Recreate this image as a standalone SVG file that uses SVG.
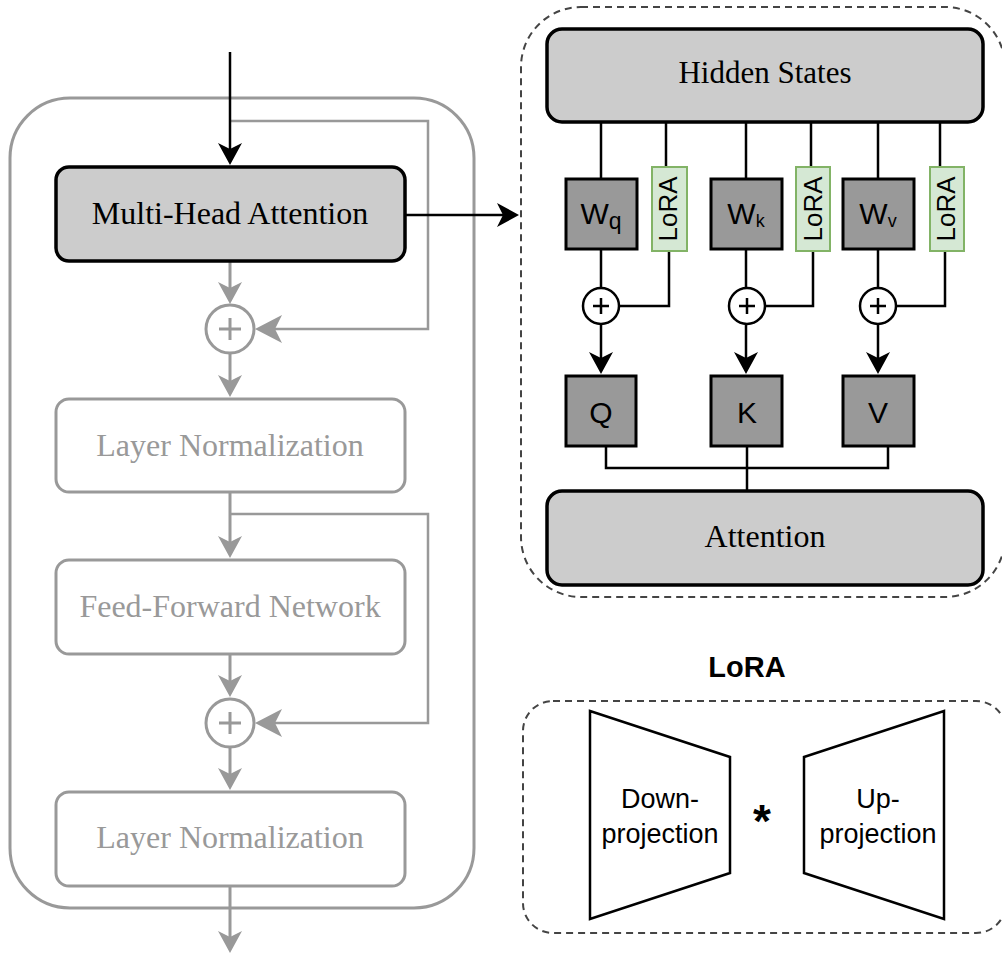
<svg xmlns="http://www.w3.org/2000/svg" width="1002" height="958" viewBox="0 0 1002 958">
  <style>
    .serif { font-family: "Liberation Serif", "Times New Roman", serif; }
    .sans { font-family: "Liberation Sans", Arial, sans-serif; }
    .blk { fill: none; stroke: #000; stroke-width: 2.5; }
    .gry { fill: none; stroke: #999; stroke-width: 3; }
    .gry-thin { fill: none; stroke: #999; stroke-width: 2.5; }
    .box-main { fill: #cccccc; stroke: #000; stroke-width: 3.5; }
    .box-faded { fill: #fff; stroke: #999; stroke-width: 3; }
    .w { fill: #999999; stroke: #000; stroke-width: 3; }
    .lora { fill: #d5e8d4; stroke: #82b366; stroke-width: 2; }
    .sum-b { fill: #fff; stroke: #000; stroke-width: 2.5; }
    .sum-g { fill: #fff; stroke: #999; stroke-width: 3; }
    .dash { fill: none; stroke: #444; stroke-width: 2; stroke-dasharray: 7 5; }
    .trap { fill: #fff; stroke: #000; stroke-width: 2.5; stroke-linejoin: miter; }
  </style>
  <defs>
    <!-- notched arrowheads; tip sits 10 (or 12) units past the line end -->
    <marker id="arrB" viewBox="-14 -13 26 26" refX="0" refY="0" markerWidth="26" markerHeight="26" markerUnits="userSpaceOnUse" orient="auto">
      <path d="M10,0 L-12,-12 L-6,0 L-12,12 Z" fill="#000"/>
    </marker>
    <marker id="arrG" viewBox="-14 -13 26 26" refX="0" refY="0" markerWidth="26" markerHeight="26" markerUnits="userSpaceOnUse" orient="auto">
      <path d="M10,0 L-12,-12 L-6,0 L-12,12 Z" fill="#999"/>
    </marker>
    <marker id="arrGL" viewBox="-17 -16 31 32" refX="0" refY="0" markerWidth="31" markerHeight="32" markerUnits="userSpaceOnUse" orient="auto">
      <path d="M12,0 L-15,-14 L-8,0 L-15,14 Z" fill="#999"/>
    </marker>
  </defs>

  <!-- transformer block frame -->
  <rect x="10" y="98" width="464" height="810" rx="60" ry="60" fill="none" stroke="#999" stroke-width="3"/>

  <!-- attention detail frame -->
  <rect x="521" y="7" width="484" height="590" rx="60" ry="60" class="dash"/>

  <!-- LoRA detail frame -->
  <rect x="523" y="701" width="483" height="232" rx="30" ry="30" class="dash"/>

  <g id="connectors">
    <!-- residual branches (grey) -->
    <path d="M230,121 H428 V329 H267" class="gry-thin" marker-end="url(#arrGL)"/>
    <path d="M230,514 H428 V723 H267" class="gry-thin" marker-end="url(#arrGL)"/>
    <!-- main grey flow -->
    <path d="M230,261 V294" class="gry" marker-end="url(#arrG)"/>
    <path d="M230,353 V387" class="gry" marker-end="url(#arrG)"/>
    <path d="M230,492 V548" class="gry" marker-end="url(#arrG)"/>
    <path d="M230,654 V687" class="gry" marker-end="url(#arrG)"/>
    <path d="M230,747 V780" class="gry" marker-end="url(#arrG)"/>
    <path d="M230,886 V943" class="gry" marker-end="url(#arrG)"/>
    <!-- input and detail link (black) -->
    <path d="M230,52 V155" class="blk" marker-end="url(#arrB)"/>
    <path d="M405,215 H509" class="blk" marker-end="url(#arrB)"/>

    <!-- hidden states fan-out -->
    <path d="M601,122 V179" class="blk"/>
    <path d="M666,122 V167" class="blk"/>
    <path d="M746,122 V179" class="blk"/>
    <path d="M811,122 V167" class="blk"/>
    <path d="M878,122 V179" class="blk"/>
    <path d="M940,122 V167" class="blk"/>
    <!-- weights into adders -->
    <path d="M601,249 V288" class="blk"/>
    <path d="M746,249 V288" class="blk"/>
    <path d="M878,249 V288" class="blk"/>
    <!-- LoRA branches into adders -->
    <path d="M669,251 V306 H619" class="blk"/>
    <path d="M813,251 V306 H765" class="blk"/>
    <path d="M945,251 V306 H896" class="blk"/>
    <!-- adders into Q, K, V -->
    <path d="M601,324 V364" class="blk" marker-end="url(#arrB)"/>
    <path d="M746,324 V364" class="blk" marker-end="url(#arrB)"/>
    <path d="M878,324 V364" class="blk" marker-end="url(#arrB)"/>
    <!-- Q, K, V merge into attention -->
    <path d="M606,446 V468 H888 V446" class="blk"/>
    <path d="M747,446 V491" class="blk"/>
  </g>

  <g id="mha">
    <rect x="56" y="167" width="349" height="94" rx="13" class="box-main"/>
    <text x="230" y="224" class="serif" font-size="32" text-anchor="middle" fill="#000">Multi-Head Attention</text>
  </g>

  <g id="add1">
    <circle cx="230" cy="329" r="24" class="sum-g"/>
    <path d="M219,329 H241 M230,318 V340" stroke="#999" stroke-width="3"/>
  </g>

  <g id="layernorm1">
    <rect x="56" y="399" width="349" height="93" rx="13" class="box-faded"/>
    <text x="230" y="456" class="serif" font-size="32" text-anchor="middle" fill="#999">Layer Normalization</text>
  </g>

  <g id="ffn">
    <rect x="56" y="560" width="349" height="94" rx="13" class="box-faded"/>
    <text x="230" y="617" class="serif" font-size="32" text-anchor="middle" fill="#999">Feed-Forward Network</text>
  </g>

  <g id="add2">
    <circle cx="230" cy="723" r="24" class="sum-g"/>
    <path d="M219,723 H241 M230,712 V734" stroke="#999" stroke-width="3"/>
  </g>

  <g id="layernorm2">
    <rect x="56" y="792" width="349" height="94" rx="13" class="box-faded"/>
    <text x="230" y="848" class="serif" font-size="32" text-anchor="middle" fill="#999">Layer Normalization</text>
  </g>

  <g id="hidden-states">
    <rect x="547" y="29" width="436" height="93" rx="15" class="box-main"/>
    <text x="765" y="83" class="serif" font-size="31" text-anchor="middle" fill="#000">Hidden States</text>
  </g>

  <g id="wq">
    <rect x="566" y="179" width="71" height="70" class="w"/>
    <text x="601" y="224" class="sans" font-size="30" text-anchor="middle" fill="#000">W<tspan font-size="23" dy="5">q</tspan></text>
  </g>
  <g id="lora-q">
    <rect x="652" y="167" width="35" height="84" class="lora"/>
    <text transform="translate(677,209) rotate(-90)" class="sans" font-size="26" text-anchor="middle" fill="#000">LoRA</text>
  </g>

  <g id="wk">
    <rect x="711" y="179" width="71" height="70" class="w"/>
    <text x="746" y="224" class="sans" font-size="30" text-anchor="middle" fill="#000">W<tspan font-size="18" dy="3">k</tspan></text>
  </g>
  <g id="lora-k">
    <rect x="796" y="167" width="34" height="84" class="lora"/>
    <text transform="translate(822,209) rotate(-90)" class="sans" font-size="26" text-anchor="middle" fill="#000">LoRA</text>
  </g>

  <g id="wv">
    <rect x="843" y="179" width="71" height="70" class="w"/>
    <text x="878" y="224" class="sans" font-size="30" text-anchor="middle" fill="#000">W<tspan font-size="18" dy="3">v</tspan></text>
  </g>
  <g id="lora-v">
    <rect x="930" y="167" width="34" height="84" class="lora"/>
    <text transform="translate(955,209) rotate(-90)" class="sans" font-size="26" text-anchor="middle" fill="#000">LoRA</text>
  </g>

  <g id="add-q">
    <circle cx="601" cy="306" r="18" class="sum-b"/>
    <path d="M593,306 H609 M601,298 V314" stroke="#000" stroke-width="2.5"/>
  </g>
  <g id="add-k">
    <circle cx="747" cy="306" r="18" class="sum-b"/>
    <path d="M739,306 H755 M747,298 V314" stroke="#000" stroke-width="2.5"/>
  </g>
  <g id="add-v">
    <circle cx="878" cy="306" r="18" class="sum-b"/>
    <path d="M870,306 H886 M878,298 V314" stroke="#000" stroke-width="2.5"/>
  </g>

  <g id="q">
    <rect x="566" y="376" width="70" height="70" class="w"/>
    <text x="601" y="423" class="sans" font-size="30" text-anchor="middle" fill="#000">Q</text>
  </g>
  <g id="k">
    <rect x="711" y="376" width="71" height="70" class="w"/>
    <text x="747" y="423" class="sans" font-size="30" text-anchor="middle" fill="#000">K</text>
  </g>
  <g id="v">
    <rect x="843" y="376" width="71" height="70" class="w"/>
    <text x="878" y="423" class="sans" font-size="30" text-anchor="middle" fill="#000">V</text>
  </g>

  <g id="attention">
    <rect x="547" y="491" width="436" height="94" rx="15" class="box-main"/>
    <text x="765" y="547" class="serif" font-size="32" text-anchor="middle" fill="#000">Attention</text>
  </g>

  <!-- LoRA decomposition -->
  <text x="747" y="677" class="sans" font-size="29" font-weight="bold" text-anchor="middle" fill="#000">LoRA</text>

  <g id="down-projection">
    <polygon points="590,711 730,757 730,873 590,919" class="trap"/>
    <text x="660" y="808" class="sans" font-size="27" text-anchor="middle" fill="#000">Down-</text>
    <text x="660" y="843" class="sans" font-size="27" text-anchor="middle" fill="#000">projection</text>
  </g>

  <text x="762" y="837" class="sans" font-size="46" font-weight="bold" text-anchor="middle" fill="#000">*</text>

  <g id="up-projection">
    <polygon points="804,757 944,711 944,919 804,873" class="trap"/>
    <text x="878" y="808" class="sans" font-size="27" text-anchor="middle" fill="#000">Up-</text>
    <text x="878" y="843" class="sans" font-size="27" text-anchor="middle" fill="#000">projection</text>
  </g>
</svg>
